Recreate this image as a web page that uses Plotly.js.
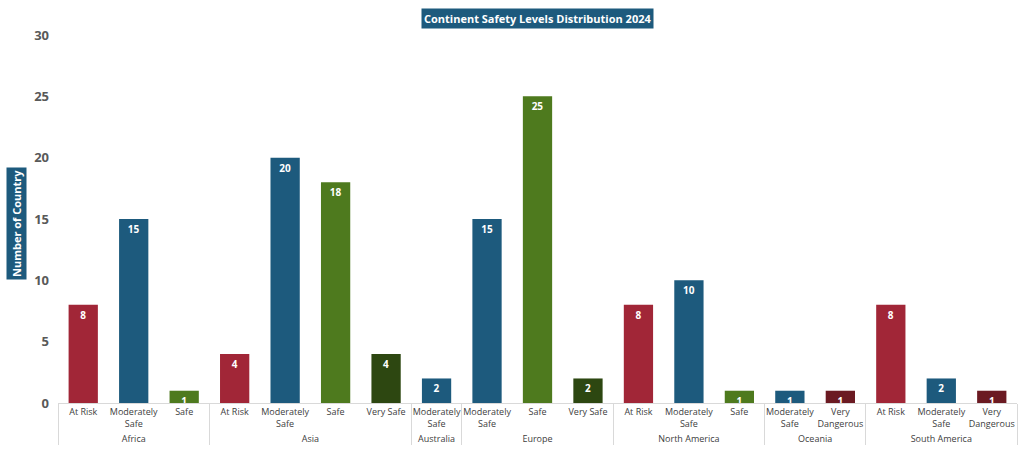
<!DOCTYPE html>
<html>
<head>
<meta charset="utf-8">
<script src="https://cdn.plot.ly/plotly-3.0.1.min.js"></script>
<style>html,body{margin:0;padding:0;background:#fff;}#chart{width:1024px;height:469px;}</style>
</head>
<body>
<div id="chart"></div>
<script>
const continents = ["Africa","Africa","Africa","Asia","Asia","Asia","Asia","Australia","Europe","Europe","Europe","North America","North America","North America","Oceania","Oceania","South America","South America","South America"];
const levels = ["At Risk","Moderately Safe","Safe","At Risk","Moderately Safe","Safe","Very Safe","Moderately Safe","Moderately Safe","Safe","Very Safe","At Risk","Moderately Safe","Safe","Moderately Safe","Very Dangerous","At Risk","Moderately Safe","Very Dangerous"];
const counts = [8,15,1,4,20,18,4,2,15,25,2,8,10,1,1,1,8,2,1];
const levelColors = {"At Risk":"#A12637","Moderately Safe":"#1D5A7D","Safe":"#4E7A1E","Very Safe":"#2D4711","Very Dangerous":"#6B1A22"};

const levelLabels = levels.map(l => l.replace("Moderately Safe", "Moderately<br>Safe").replace("Very Dangerous", "Very<br>Dangerous"));

const trace = {
  type: "bar",
  x: [continents, levelLabels],
  y: counts,
  marker: {color: levels.map(l => levelColors[l])},
  text: counts.map(String),
  textposition: "inside",
  insidetextanchor: "end",
  textangle: 0,
  textfont: {family: "Open Sans, sans-serif", size: 10, color: "#ffffff", weight: "bold"},
  hoverinfo: "x+y"
};

const layout = {
  width: 1024, height: 469,
  margin: {l: 58, r: 7, t: 35, b: 66},
  paper_bgcolor: "#ffffff", plot_bgcolor: "#ffffff",
  showlegend: false,
  bargap: 0.42,
  uniformtext: {mode: "show", minsize: 10},
  font: {family: "Open Sans, sans-serif"},
  xaxis: {
    type: "multicategory",
    tickangle: 0,
    showline: true, linecolor: "#d9d9d9", linewidth: 1,
    showdividers: true, dividercolor: "#d9d9d9", dividerwidth: 1,
    tickfont: {family: "Open Sans, sans-serif", size: 9, color: "#404040"},
    ticks: "", showgrid: false, zeroline: false
  },
  yaxis: {
    range: [0, 30], tickvals: [0,5,10,15,20,25,30],
    showgrid: false, zeroline: false, showline: false,
    tickfont: {family: "Open Sans, sans-serif", size: 13, color: "#595959", weight: "bold"},
    ticklabelstandoff: 8
  },
  annotations: [
    {text: "Continent Safety Levels Distribution 2024", xref: "paper", yref: "paper",
     x: 0.5, y: 1, yshift: 17, xanchor: "center", yanchor: "middle", showarrow: false,
     bgcolor: "#1D5A7D", borderpad: 2,
     font: {family: "Open Sans, sans-serif", size: 11, color: "#ffffff", weight: "bold"}},
    {text: "Number of Country", xref: "paper", yref: "paper",
     x: 0, xshift: -42, y: 0.5, yshift: -5, xanchor: "center", yanchor: "middle", showarrow: false,
     textangle: -90, bgcolor: "#1D5A7D", borderpad: 2,
     font: {family: "Open Sans, sans-serif", size: 11, color: "#ffffff", weight: "bold"}}
  ]
};

Plotly.newPlot("chart", [trace], layout, {displayModeBar: false, responsive: false});
</script>
</body>
</html>
